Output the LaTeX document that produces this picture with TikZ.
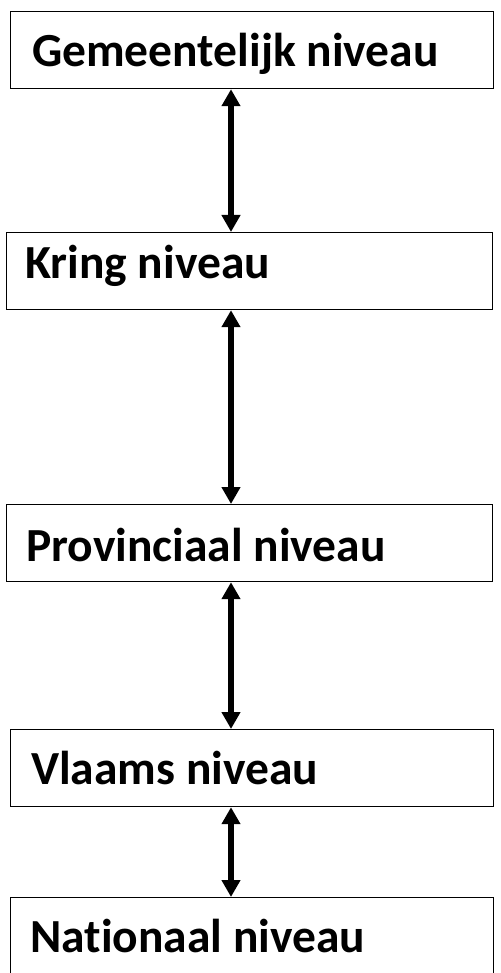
\documentclass[tikz,border=0pt]{standalone}
\usepackage{fontspec}
\setmainfont[Ligatures=NoCommon]{Carlito}
\usepackage{tikz}
\usetikzlibrary{arrows.meta}
\usetikzlibrary{positioning}
\tikzset{levelbox/.style = {draw, line width=1.2pt, anchor=north west,
                            minimum height=77pt, inner sep=0pt},
         leveltext/.style = {anchor=west, inner sep=0pt, text height=31pt, text depth=0pt,
                             font=\fontsize{47.5}{58}\selectfont\bfseries},
         link/.style = {line width=5.5pt, {Triangle[width=18pt,length=17pt]}-{Triangle[width=18pt,length=17pt]}}}

\begin{document}
\begin{tikzpicture}[x=1pt, y=-1pt]
    \useasboundingbox (0, 0) rectangle (500, 973);

    \node [levelbox, minimum width=483pt] (gem) at (10, 11) {};
    \node [levelbox, minimum width=486pt] (kring) at (6, 232) {};
    \node [levelbox, minimum width=486pt] (prov) at (6, 504) {};
    \node [levelbox, minimum width=483pt] (vlaams) at (10, 729) {};
    \node [levelbox, minimum width=483pt, minimum height=82pt] (nat) at (10, 897) {};

    \node [leveltext] (gemtxt) at (32, 51) {Gemeentelijk niveau};
    \node [leveltext] (kringtxt) at (25, 263) {Kring niveau};
    \node [leveltext] (provtxt) at (26, 546) {Provinciaal niveau};
    \node [leveltext] (vlaamstxt) at (31, 769) {Vlaams niveau};
    \node [leveltext] (nattxt) at (30, 937) {Nationaal niveau};

    \coordinate (ax) at (231, 0);
    \draw [link] (gem.south -| ax) -- (kring.north -| ax);
    \draw [link] (kring.south -| ax) -- (prov.north -| ax);
    \draw [link] (prov.south -| ax) -- (vlaams.north -| ax);
    \draw [link] (vlaams.south -| ax) -- (nat.north -| ax);
\end{tikzpicture}
\end{document}
